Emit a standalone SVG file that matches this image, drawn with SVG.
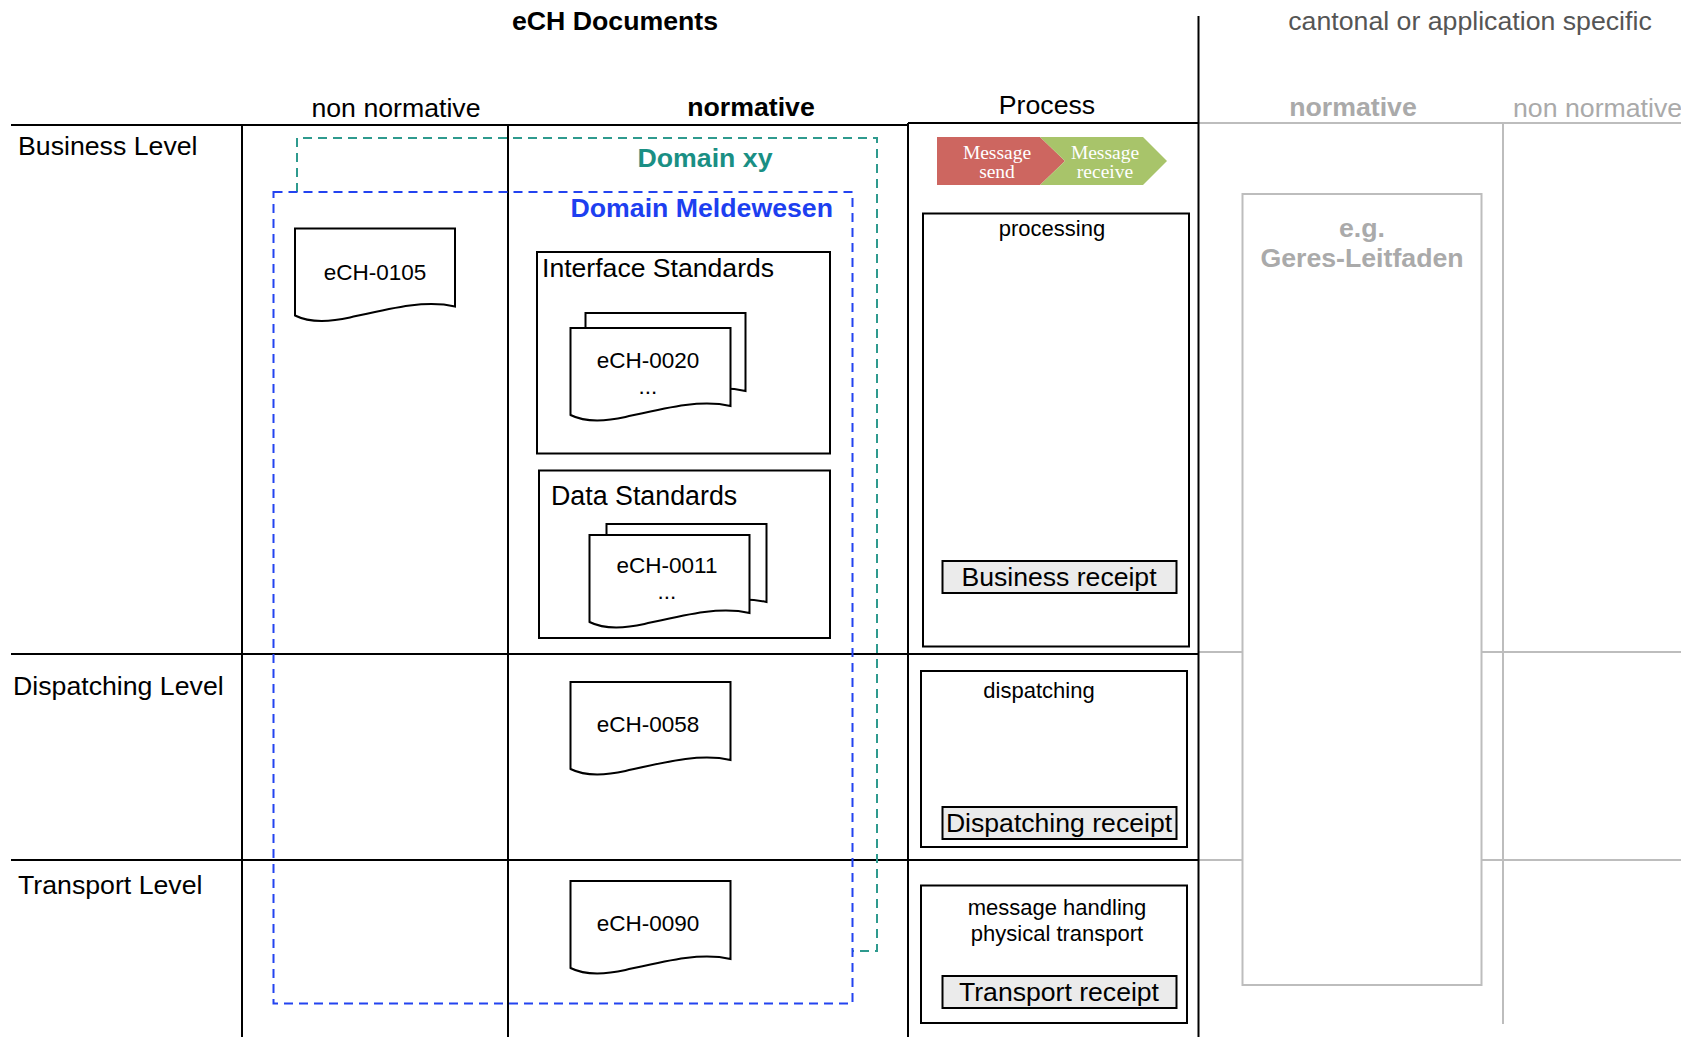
<svg xmlns="http://www.w3.org/2000/svg" width="1681" height="1037" viewBox="0 0 1681 1037">
<defs>
<style>
text{font-family:"Liberation Sans",Arial,sans-serif;fill:#000}
.hd{font-size:26.7px}
.b{font-weight:bold}
.g{fill:#aaaaaa}
.grid{stroke:#000;stroke-width:2;fill:none}
.ggrid{stroke:#bdbdbd;stroke-width:2;fill:none}
.box{fill:#fff;stroke:#000;stroke-width:2}
.rc{fill:#ebebeb;stroke:#000;stroke-width:2}
.doc{fill:#fff;stroke:#000;stroke-width:2}
.dt{font-size:22.5px;text-anchor:middle}
.st{font-size:22px;text-anchor:middle}
.rt{font-size:26.6px;text-anchor:middle}
.cv{font-family:"Liberation Serif","Times New Roman",serif;font-size:19.5px;fill:#fff;text-anchor:middle}
</style>
<path id="docshape" d="M0,0 H160 V78 C130,71 95,80 55,89 C32,94 14,94 0,87 Z"/>
</defs>
<rect width="1681" height="1037" fill="#fff"/>

<g id="grid">
<line class="ggrid" x1="1198" y1="123" x2="1681" y2="123"/>
<line class="ggrid" x1="1198" y1="652" x2="1681" y2="652"/>
<line class="ggrid" x1="1198" y1="860" x2="1681" y2="860"/>
<line class="ggrid" x1="1503" y1="123" x2="1503" y2="1024"/>
<line class="grid" x1="11" y1="125" x2="908" y2="125"/>
<line class="grid" x1="908" y1="123" x2="1199" y2="123"/>
<line class="grid" x1="11" y1="654" x2="1199" y2="654"/>
<line class="grid" x1="11" y1="860" x2="1199" y2="860"/>
<line class="grid" x1="242" y1="125" x2="242" y2="1037"/>
<line class="grid" x1="508" y1="125" x2="508" y2="1037"/>
<line class="grid" x1="908" y1="123" x2="908" y2="1037"/>
<line class="grid" x1="1198.5" y1="16" x2="1198.5" y2="1037"/>
</g>

<g id="headers">
<text class="hd b" x="615" y="30" text-anchor="middle">eCH Documents</text>
<text class="hd" x="1470" y="30" text-anchor="middle" style="fill:#555">cantonal or application specific</text>
<text class="hd" x="396" y="117" text-anchor="middle">non normative</text>
<text class="hd b" x="751" y="116" text-anchor="middle">normative</text>
<text class="hd" x="1047" y="114" text-anchor="middle">Process</text>
<text class="hd b g" x="1353" y="116" text-anchor="middle">normative</text>
<text class="hd g" x="1513" y="117">non normative</text>
<text class="hd" x="18" y="155">Business Level</text>
<text class="hd" x="13" y="695">Dispatching Level</text>
<text class="hd" x="18" y="894">Transport Level</text>
</g>

<g id="domain-xy">
<path d="M297,192 V138 H877 V951 H852" fill="none" stroke="#2e9a8e" stroke-width="2" stroke-dasharray="9,6"/>
<text class="hd b" x="705" y="167" text-anchor="middle" style="fill:#1a8f84">Domain xy</text>
</g>

<g id="domain-meldewesen">
<rect x="273.5" y="192" width="579" height="811.5" fill="none" stroke="#2343f0" stroke-width="2" stroke-dasharray="9,6"/>
<text class="hd b" x="833" y="217" text-anchor="end" style="fill:#1d3ff0">Domain Meldewesen</text>
</g>

<g id="ech-0105">
<use href="#docshape" class="doc" transform="translate(295,228.5)"/>
<text class="dt" x="375" y="280">eCH-0105</text>
</g>

<g id="interface-standards">
<rect class="box" x="537" y="252" width="293" height="201.5"/>
<text x="542" y="277" style="font-size:26.6px">Interface Standards</text>
<g id="ech-0020">
<use href="#docshape" class="doc" transform="translate(585.5,313)"/>
<use href="#docshape" class="doc" transform="translate(570.5,328)"/>
<text class="dt" x="648" y="368">eCH-0020</text>
<text class="dt" x="648" y="394">...</text>
</g>
</g>

<g id="data-standards">
<rect class="box" x="539" y="470.5" width="291" height="167.5"/>
<text x="551" y="505" style="font-size:26.8px">Data Standards</text>
<g id="ech-0011">
<use href="#docshape" class="doc" transform="translate(606.5,524)"/>
<use href="#docshape" class="doc" transform="translate(589.5,535)"/>
<text class="dt" x="667" y="573">eCH-0011</text>
<text class="dt" x="667" y="599">...</text>
</g>
</g>

<g id="ech-0058">
<use href="#docshape" class="doc" transform="translate(570.5,682)"/>
<text class="dt" x="648" y="732">eCH-0058</text>
</g>

<g id="ech-0090">
<use href="#docshape" class="doc" transform="translate(570.5,881)"/>
<text class="dt" x="648" y="931">eCH-0090</text>
</g>

<g id="message-chevrons">
<path d="M937,137 H1040 L1065,161 L1040,185 H937 Z" fill="#cd6660"/>
<path d="M1040,137 H1143 L1167,161 L1143,185 H1040 L1065,161 Z" fill="#a8c46a"/>
<text class="cv" x="997" y="159">Message</text>
<text class="cv" x="997" y="178">send</text>
<text class="cv" x="1105" y="159">Message</text>
<text class="cv" x="1105" y="178">receive</text>
</g>

<g id="processing">
<rect class="box" x="923" y="213.5" width="266" height="433"/>
<text class="st" x="1052" y="236">processing</text>
<g id="business-receipt">
<rect class="rc" x="942.5" y="561" width="234" height="32"/>
<text class="rt" x="1059" y="586">Business receipt</text>
</g>
</g>

<g id="dispatching">
<rect class="box" x="921" y="671" width="266" height="176"/>
<text class="st" x="1039" y="698">dispatching</text>
<g id="dispatching-receipt">
<rect class="rc" x="942.5" y="807" width="234" height="32"/>
<text class="rt" x="1059" y="832">Dispatching receipt</text>
</g>
</g>

<g id="transport">
<rect class="box" x="921" y="885.5" width="266" height="137.5"/>
<text class="st" x="1057" y="915">message handling</text>
<text class="st" x="1057" y="941">physical transport</text>
<g id="transport-receipt">
<rect class="rc" x="942.5" y="976" width="234" height="32"/>
<text class="rt" x="1059" y="1001">Transport receipt</text>
</g>
</g>

<g id="geres">
<rect x="1242.5" y="194" width="239" height="791" fill="#fff" stroke="#bdbdbd" stroke-width="2"/>
<text class="hd b g" x="1362" y="237" text-anchor="middle">e.g.</text>
<text class="hd b g" x="1362" y="267" text-anchor="middle">Geres-Leitfaden</text>
</g>

<g id="connectors"></g>
</svg>
